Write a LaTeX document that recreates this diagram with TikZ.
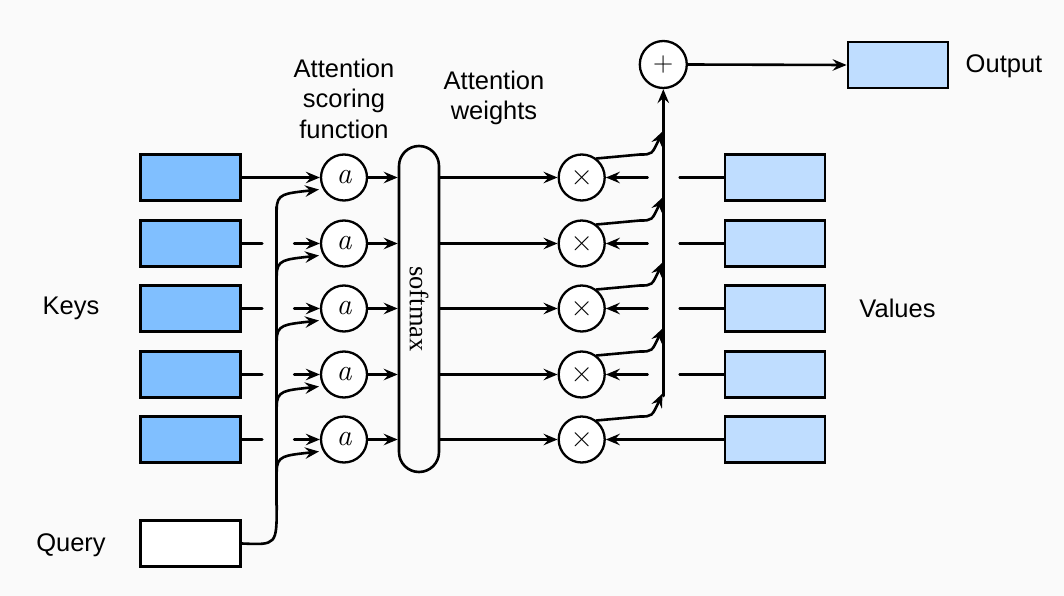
\documentclass[tikz,border=0pt]{standalone}
\usepackage{fontspec}
\setmainfont{Latin Modern Roman}
\newfontfamily\lab{Liberation Sans}
\newfontfamily\serifb{Liberation Serif}
\usetikzlibrary{arrows.meta,calc}
\definecolor{bgc}{RGB}{250,250,250}
\definecolor{keyc}{RGB}{128,191,255}
\definecolor{valc}{RGB}{191,221,255}
\begin{document}
\begin{tikzpicture}[x=1pt,y=-1pt,
  tip/.style={-{Stealth[length=14pt,width=11.5pt,inset=5pt]}},
  vecbox/.style={draw,line width=2.8pt,minimum width=100pt,minimum height=46pt,inner sep=0pt},
  keybox/.style={vecbox,fill=keyc},
  valbox/.style={vecbox,fill=valc},
  opcirc/.style={draw,circle,line width=2.3pt,minimum size=46pt,inner sep=0pt,fill=white},
  lbl/.style={font=\lab\fontsize{25.5}{30.5}\selectfont,align=center},
  conn/.style={line width=2.6pt,line cap=round}
]
\fill[bgc] (0,0) rectangle (1064,596);
\useasboundingbox (0,0) rectangle (1064,596);

% rows
\foreach \i/\y in {1/177.5,2/243.5,3/308.5,4/374.5,5/439.5}{
  \node[keybox] (k\i) at (190.8,\y) {};
  \node[valbox] (v\i) at (775,\y) {};
  \node[opcirc,font=\fontsize{30}{32}\selectfont\itshape] (a\i) at (344,\y) {a};
  \node[opcirc,font=\fontsize{31}{33}\selectfont] (m\i) at (581.7,\y) {×};
}

\node[draw,line width=2.6pt,rounded corners=20pt,minimum width=40pt,minimum height=326pt,inner sep=0pt,fill=bgc] (sm) at (419,309) {};
\node[rotate=-90,font=\serifb\fontsize{26.5}{30}\selectfont] (smt) at (sm.center) {softmax};

\node[vecbox,fill=white] (q) at (190.7,543.5) {};
\node[valbox] (out) at (898,65) {};
\node[opcirc,minimum size=47pt,font=\fontsize{28}{30}\selectfont] (plus) at (663.3,64.5) {+};

% labels
\node[lbl] (lk) at (71,308) {Keys};
\node[lbl] (lq) at (71,545) {Query};
\node[lbl] (lv) at (897.5,308) {Values};
\node[lbl] (lo) at (1004,66) {Output};
\node[lbl] (la) at (344,98.5) {Attention\\scoring\\function};
\node[lbl] (lw) at (494,98) {Attention\\weights};

% key to a
\draw[conn,tip] (k1.east) -- (a1.west);
\foreach \i in {2,3,4,5}{
  \coordinate (kg\i) at ($(k\i.east)+(20,0)$);
  \coordinate (ka\i) at ($(k\i.east)+(52,0)$);
  \draw[conn] (k\i.east) -- (kg\i);
  \draw[conn,tip] (ka\i) -- (a\i.west);
}

% query
\coordinate (qv) at (276.7,505);
\draw[conn] (q.east) .. controls (276.7,545) .. (qv);
\draw[conn] (qv) -- (276.7,207);
\foreach \i/\y in {1/177.5,2/243.5,3/308.5,4/374.5,5/439.5}{
  \coordinate (qs\i) at (276.7,\y+32);
  \draw[conn,tip] (qs\i) .. controls (276.7,\y+16) and (284,\y+16) .. ($(a\i.center)+(-25,12)$);
}

% a to softmax, softmax to times
\foreach \i in {1,2,3,4,5}{
  \draw[conn,tip] (a\i.east) -- (sm.west |- a\i.east);
  \draw[conn,tip] (sm.east |- m\i.west) -- (m\i.west);
}

% values to times
\draw[conn,tip] (v5.west) -- (m5.east);
\foreach \i in {1,2,3,4}{
  \coordinate (vg\i) at ($(v\i.west)+(-44,0)$);
  \coordinate (vm\i) at ($(v\i.west)+(-76,0)$);
  \draw[conn] (v\i.west) -- (vg\i);
  \draw[conn,tip] (vm\i) -- (m\i.east);
}

% times to sum
\coordinate (vb) at (663.3,396);
\draw[conn,tip] (vb) -- (plus.south);
\foreach \i/\y in {1/177.5,2/243.5,3/308.5,4/374.5,5/439.5}{
  \draw[conn,tip] (m\i.52) -- (640,\y-23) .. controls (652,\y-23) .. (662.5,\y-46);
}

% sum to output
\draw[conn,tip] (plus.east) -- (out.west);
\end{tikzpicture}
\end{document}
